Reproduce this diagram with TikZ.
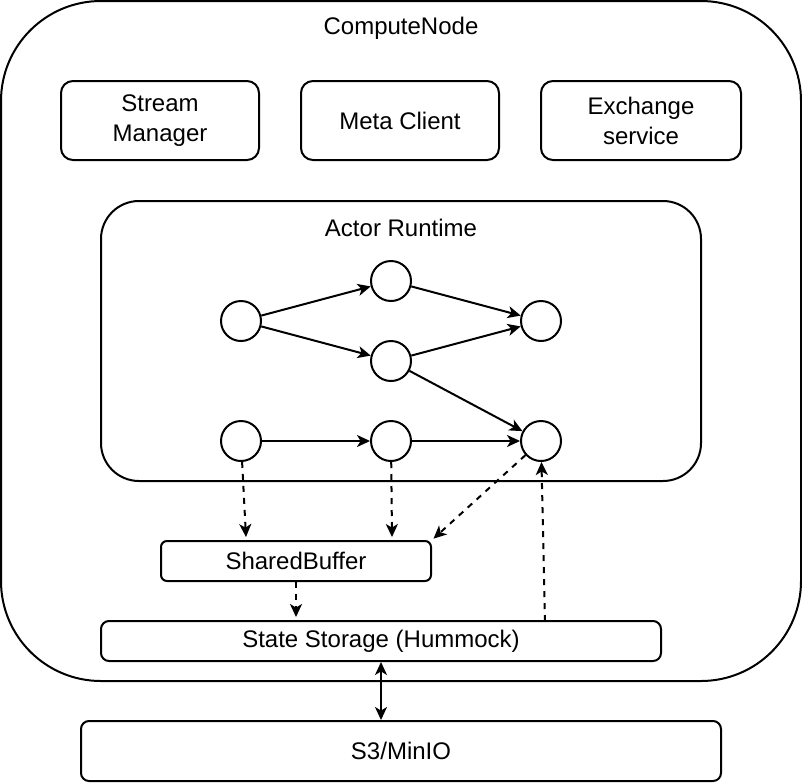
\documentclass[tikz,border=0pt]{standalone}
\usepackage{fontspec}
\setmainfont{Liberation Sans}
\usetikzlibrary{arrows.meta}

\begin{document}
\begin{tikzpicture}[x=0.5pt,y=-0.5pt,>={Stealth[length=6.5pt,width=6pt,inset=1.8pt]},line width=1pt,font=\fontsize{12}{15}\selectfont,
  box/.style={draw,rounded corners=6pt,inner sep=0pt,align=center},
  actor/.style={draw,circle,minimum size=20pt,inner sep=0pt},
  flow/.style={->,dash pattern=on 3pt off 3pt}]
\useasboundingbox (0,0) rectangle (802,782);
% compute node and its services
\node[box,rounded corners=50pt,minimum width=400pt,minimum height=340pt] (cn) at (401,341) {};
\node (cntitle) at (401,28) {ComputeNode};
\node[box,minimum width=99pt,minimum height=39.5pt] (sm) at (160,120.5) {Stream\\Manager};
\node[box,minimum width=99pt,minimum height=39.5pt] (mc) at (400,120.5) {Meta Client};
\node[box,minimum width=100pt,minimum height=39.5pt] (ex) at (641,120.5) {Exchange\\service};
% actor runtime
\node[box,rounded corners=19pt,minimum width=300pt,minimum height=140pt] (ar) at (401,341) {};
\node (artitle) at (401,228) {Actor Runtime};
\node[actor] (c1) at (241,321) {};
\node[actor] (c2) at (391,281) {};
\node[actor] (c3) at (391,361) {};
\node[actor] (c4) at (541,321) {};
\node[actor] (c5) at (241,441) {};
\node[actor] (c6) at (391,441) {};
\node[actor] (c7) at (541,441) {};
\draw[->] (c1) -- (c2);
\draw[->] (c1) -- (c3);
\draw[->] (c2) -- (c4);
\draw[->] (c3) -- (c4);
\draw[->] (c3) -- (c7);
\draw[->] (c5) -- (c6);
\draw[->] (c6) -- (c7);
% storage
\node[box,rounded corners=3pt,minimum width=135pt,minimum height=20pt] (sb) at (296,561) {SharedBuffer};
\node[box,rounded corners=4pt,minimum width=280pt,minimum height=20pt] (ss) at (381,641) {State Storage (Hummock)};
\node[box,rounded corners=4pt,minimum width=320pt,minimum height=30pt] (s3) at (401,751) {S3/MinIO};
\coordinate (p1) at (246,537);
\coordinate (p2) at (392,537);
\coordinate (p3) at (296,617);
\coordinate (p4) at (545,621);
\draw[flow] (c5) -- (p1);
\draw[flow] (c6) -- (p2);
\draw[flow,shorten >=1pt] (c7) -- (sb.north east);
\draw[flow] (sb.south) -- (p3);
\draw[flow] (p4) -- (c7);
\draw[<->] (ss.south) -- (ss.south |- s3.north);
\end{tikzpicture}
\end{document}
